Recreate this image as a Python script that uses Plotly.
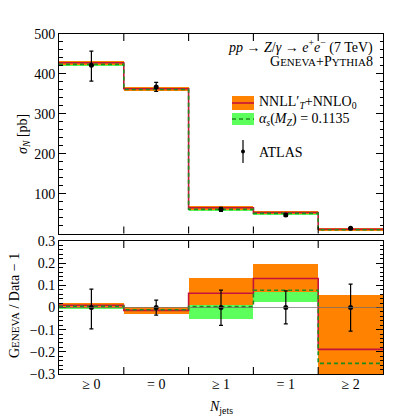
import plotly.graph_objects as go

# ---------------- data ----------------
categories = ["≥ 0", "= 0", "≥ 1", "= 1", "≥ 2"]
bin_edges = [0, 1, 2, 3, 4, 5]
bin_centers = [0.5, 1.5, 2.5, 3.5, 4.5]

# top panel: cross sections [pb]
atlas_xs = [422, 367, 61, 47, 13.5]
atlas_err_up = [35, 12, 5, 3.5, 1.5]
atlas_err_dn = [40, 11, 5, 3.5, 1.5]

geneva_central = [428, 363, 65, 53, 11]
geneva_lo = [423, 357, 60, 50, 7]
geneva_hi = [432, 368, 69, 56, 15]

alphas_central = [424, 361, 61, 51, 10]
alphas_lo = [420, 357, 58, 48, 8]
alphas_hi = [428, 365, 62, 52, 12]

# bottom panel: Geneva / Data - 1
ratio_geneva = [0.010, -0.013, 0.064, 0.131, -0.189]
ratio_geneva_lo = [-0.002, -0.031, 0.010, 0.072, -0.45]
ratio_geneva_hi = [0.019, 0.002, 0.131, 0.197, 0.056]

ratio_alphas = [0.005, -0.010, 0.004, 0.078, -0.252]
ratio_alphas_lo = [-0.007, -0.020, -0.052, 0.024, -0.30]
ratio_alphas_hi = [0.012, 0.004, 0.012, 0.085, -0.20]

ratio_data = [0, 0, 0, 0, 0]
ratio_err_up = [0.083, 0.033, 0.078, 0.075, 0.105]
ratio_err_dn = [0.096, 0.034, 0.081, 0.074, 0.107]

top_ticks = [100, 200, 300, 400, 500]
bot_ticks = [-0.3, -0.2, -0.1, 0, 0.1, 0.2, 0.3]
bot_ticktext = ["−0.3", "−0.2", "−0.1", "0", "0.1", "0.2", "0.3"]

# ---------------- style ----------------
ORANGE = "#FF8200"
GREEN = "#5CFF5C"
RED = "#C4143C"
DGREEN = "#1E8C1E"
FONT = "Liberation Serif"

fig = go.Figure()


def add_panel(xa, ya, c, lo, hi, a_c, a_lo, a_hi, d, eu, ed):
    # green band (behind)
    fig.add_trace(go.Bar(x=bin_centers, y=[h - l for h, l in zip(a_hi, a_lo)], base=a_lo,
                         width=1, marker=dict(color=GREEN, line=dict(width=0)),
                         xaxis=xa, yaxis=ya, showlegend=False, hoverinfo="skip"))
    # orange band
    fig.add_trace(go.Bar(x=bin_centers, y=[h - l for h, l in zip(hi, lo)], base=lo,
                         width=1, marker=dict(color=ORANGE, line=dict(width=0)),
                         xaxis=xa, yaxis=ya, showlegend=False, hoverinfo="skip"))
    # red central step
    fig.add_trace(go.Scatter(x=bin_edges, y=list(c) + [c[-1]], mode="lines",
                             line=dict(color=RED, width=1.6, shape="hv"),
                             xaxis=xa, yaxis=ya, showlegend=False, hoverinfo="skip"))
    # green dashed step
    fig.add_trace(go.Scatter(x=bin_edges, y=list(a_c) + [a_c[-1]], mode="lines",
                             line=dict(color=DGREEN, width=1.6, shape="hv", dash="4px,3px"),
                             xaxis=xa, yaxis=ya, showlegend=False, hoverinfo="skip"))
    # data
    fig.add_trace(go.Scatter(x=bin_centers, y=d, mode="markers",
                             marker=dict(color="black", size=5),
                             error_y=dict(type="data", symmetric=False, array=eu, arrayminus=ed,
                                          color="black", thickness=1.2, width=2),
                             xaxis=xa, yaxis=ya, showlegend=False, hoverinfo="skip"))


add_panel("x", "y", geneva_central, geneva_lo, geneva_hi,
          alphas_central, alphas_lo, alphas_hi, atlas_xs, atlas_err_up, atlas_err_dn)
add_panel("x2", "y2", ratio_geneva, ratio_geneva_lo, ratio_geneva_hi,
          ratio_alphas, ratio_alphas_lo, ratio_alphas_hi, ratio_data, ratio_err_up, ratio_err_dn)

# invisible carrier trace for the category-label axis
fig.add_trace(go.Scatter(x=bin_centers, y=ratio_data, mode="markers", marker=dict(opacity=0),
                         xaxis="x3", yaxis="y2", showlegend=False, hoverinfo="skip"))

W, H = 395, 419
ML, MR, MT, MB = 59, 12, 34, 45
PW, PH = W - ML - MR, H - MT - MB


def px(x):
    return (x - ML) / PW


def py(y):
    return (H - MB - y) / PH


edge_x = dict(range=[0, 5], showgrid=False, zeroline=False, showline=True, linecolor="black",
              linewidth=1, mirror=True, ticks="", showticklabels=False)

fig.update_layout(
    width=W, height=H,
    margin=dict(l=ML, r=MR, t=MT, b=MB),
    paper_bgcolor="white", plot_bgcolor="white",
    barmode="overlay", bargap=0,
    showlegend=False,
    xaxis=dict(edge_x, anchor="y"),
    xaxis2=dict(edge_x, anchor="y2"),
    xaxis3=dict(range=[0, 5], overlaying="x2", anchor="y2", side="bottom",
                showgrid=False, zeroline=False, showline=False, ticks="",
                tickvals=bin_centers, ticktext=categories,
                tickfont=dict(family=FONT, size=14, color="black")),
    yaxis=dict(domain=[py(233.5), 1], range=[0.5, 500], anchor="x",
               showgrid=False, zeroline=False, showline=True, linecolor="black", linewidth=1,
               mirror="ticks", ticks="inside", ticklen=7, tickcolor="black",
               tickvals=top_ticks,
               minor=dict(dtick=20, ticks="inside", ticklen=3.5, tickcolor="black"),
               tickfont=dict(family=FONT, size=14, color="black")),
    yaxis2=dict(domain=[0, py(241)], range=[-0.3, 0.3], anchor="x2",
                showgrid=False, zeroline=False, showline=True, linecolor="black", linewidth=1,
                mirror="ticks", ticks="inside", ticklen=7, tickcolor="black",
                tickvals=bot_ticks, ticktext=bot_ticktext,
                minor=dict(dtick=0.02, tick0=0, ticks="inside", ticklen=3.5, tickcolor="black"),
                tickfont=dict(family=FONT, size=14, color="black")),
)

# bin-edge tick marks on top and bottom of both panels
TICK_PX = 7
top_h = 233.5 - MT
bot_h = (H - MB) - 241
for xe in bin_edges[1:-1]:
    for xr, yr, h in (("x", "y domain", top_h), ("x2", "y2 domain", bot_h)):
        f = TICK_PX / h
        fig.add_shape(type="line", xref=xr, yref=yr, x0=xe, x1=xe, y0=0, y1=f,
                      line=dict(color="black", width=1.1), layer="above")
        fig.add_shape(type="line", xref=xr, yref=yr, x0=xe, x1=xe, y0=1 - f, y1=1,
                      line=dict(color="black", width=1.1), layer="above")

# zero reference line in ratio panel
fig.add_shape(type="line", xref="x2", yref="y2", x0=0, x1=5, y0=0, y1=0,
              line=dict(color="rgba(110,110,110,0.7)", width=1), layer="above")

ann_font = dict(family=FONT, size=14, color="black")
sc = "font-size:11px"

annotations = [
    dict(x=px(375), y=py(47), text="<i>pp</i> → <i>Z</i>/<i>γ</i> → <i>e</i><sup>+</sup><i>e</i><sup>−</sup> (7 TeV)",
         xanchor="right", yanchor="middle"),
    dict(x=px(375), y=py(61),
         text=f"G<span style='{sc}'>ENEVA</span>+P<span style='{sc}'>YTHIA</span>8",
         xanchor="right", yanchor="middle"),
    dict(x=px(257), y=py(103), text="NNLL′<sub><i>T</i></sub>+NNLO<sub>0</sub>",
         xanchor="left", yanchor="middle"),
    dict(x=px(257), y=py(119), text="<i>α<sub>s</sub></i>(<i>M<sub>Z</sub></i>) = 0.1135",
         xanchor="left", yanchor="middle"),
    dict(x=px(257), y=py(152), text="ATLAS", xanchor="left", yanchor="middle"),
    dict(x=px(23), y=py(134), text="<i>σ<sub>N</sub></i> [pb]", textangle=-90,
         xanchor="center", yanchor="middle"),
    dict(x=px(14), y=py(306),
         text=f"G<span style='{sc}'>ENEVA</span> / Data − 1", textangle=-90,
         xanchor="center", yanchor="middle"),
    dict(x=px(221), y=py(407), text="<i>N</i><sub>jets</sub>", xanchor="center", yanchor="middle"),
]
for a in annotations:
    fig.add_annotation(xref="paper", yref="paper", showarrow=False, font=ann_font, **a)

# legend keys
fig.add_shape(type="rect", xref="paper", yref="paper", x0=px(232), x1=px(254), y0=py(110), y1=py(96),
              fillcolor=ORANGE, line=dict(width=0))
fig.add_shape(type="line", xref="paper", yref="paper", x0=px(232), x1=px(254), y0=py(103), y1=py(103),
              line=dict(color=RED, width=1.6))
fig.add_shape(type="rect", xref="paper", yref="paper", x0=px(232), x1=px(254), y0=py(125), y1=py(113),
              fillcolor=GREEN, line=dict(width=0))
fig.add_shape(type="line", xref="paper", yref="paper", x0=px(232), x1=px(254), y0=py(119), y1=py(119),
              line=dict(color=DGREEN, width=1.6, dash="4px,3px"))
fig.add_shape(type="line", xref="paper", yref="paper", x0=px(243), x1=px(243), y0=py(140), y1=py(163),
              line=dict(color="black", width=1.2))
fig.add_shape(type="circle", xref="paper", yref="paper", x0=px(241), x1=px(245), y0=py(149.5), y1=py(153.5),
              fillcolor="black", line=dict(width=0))

fig.write_html("out.html", config={"displayModeBar": False},
               post_script="document.body.style.margin='0';document.body.style.overflow='hidden';")
